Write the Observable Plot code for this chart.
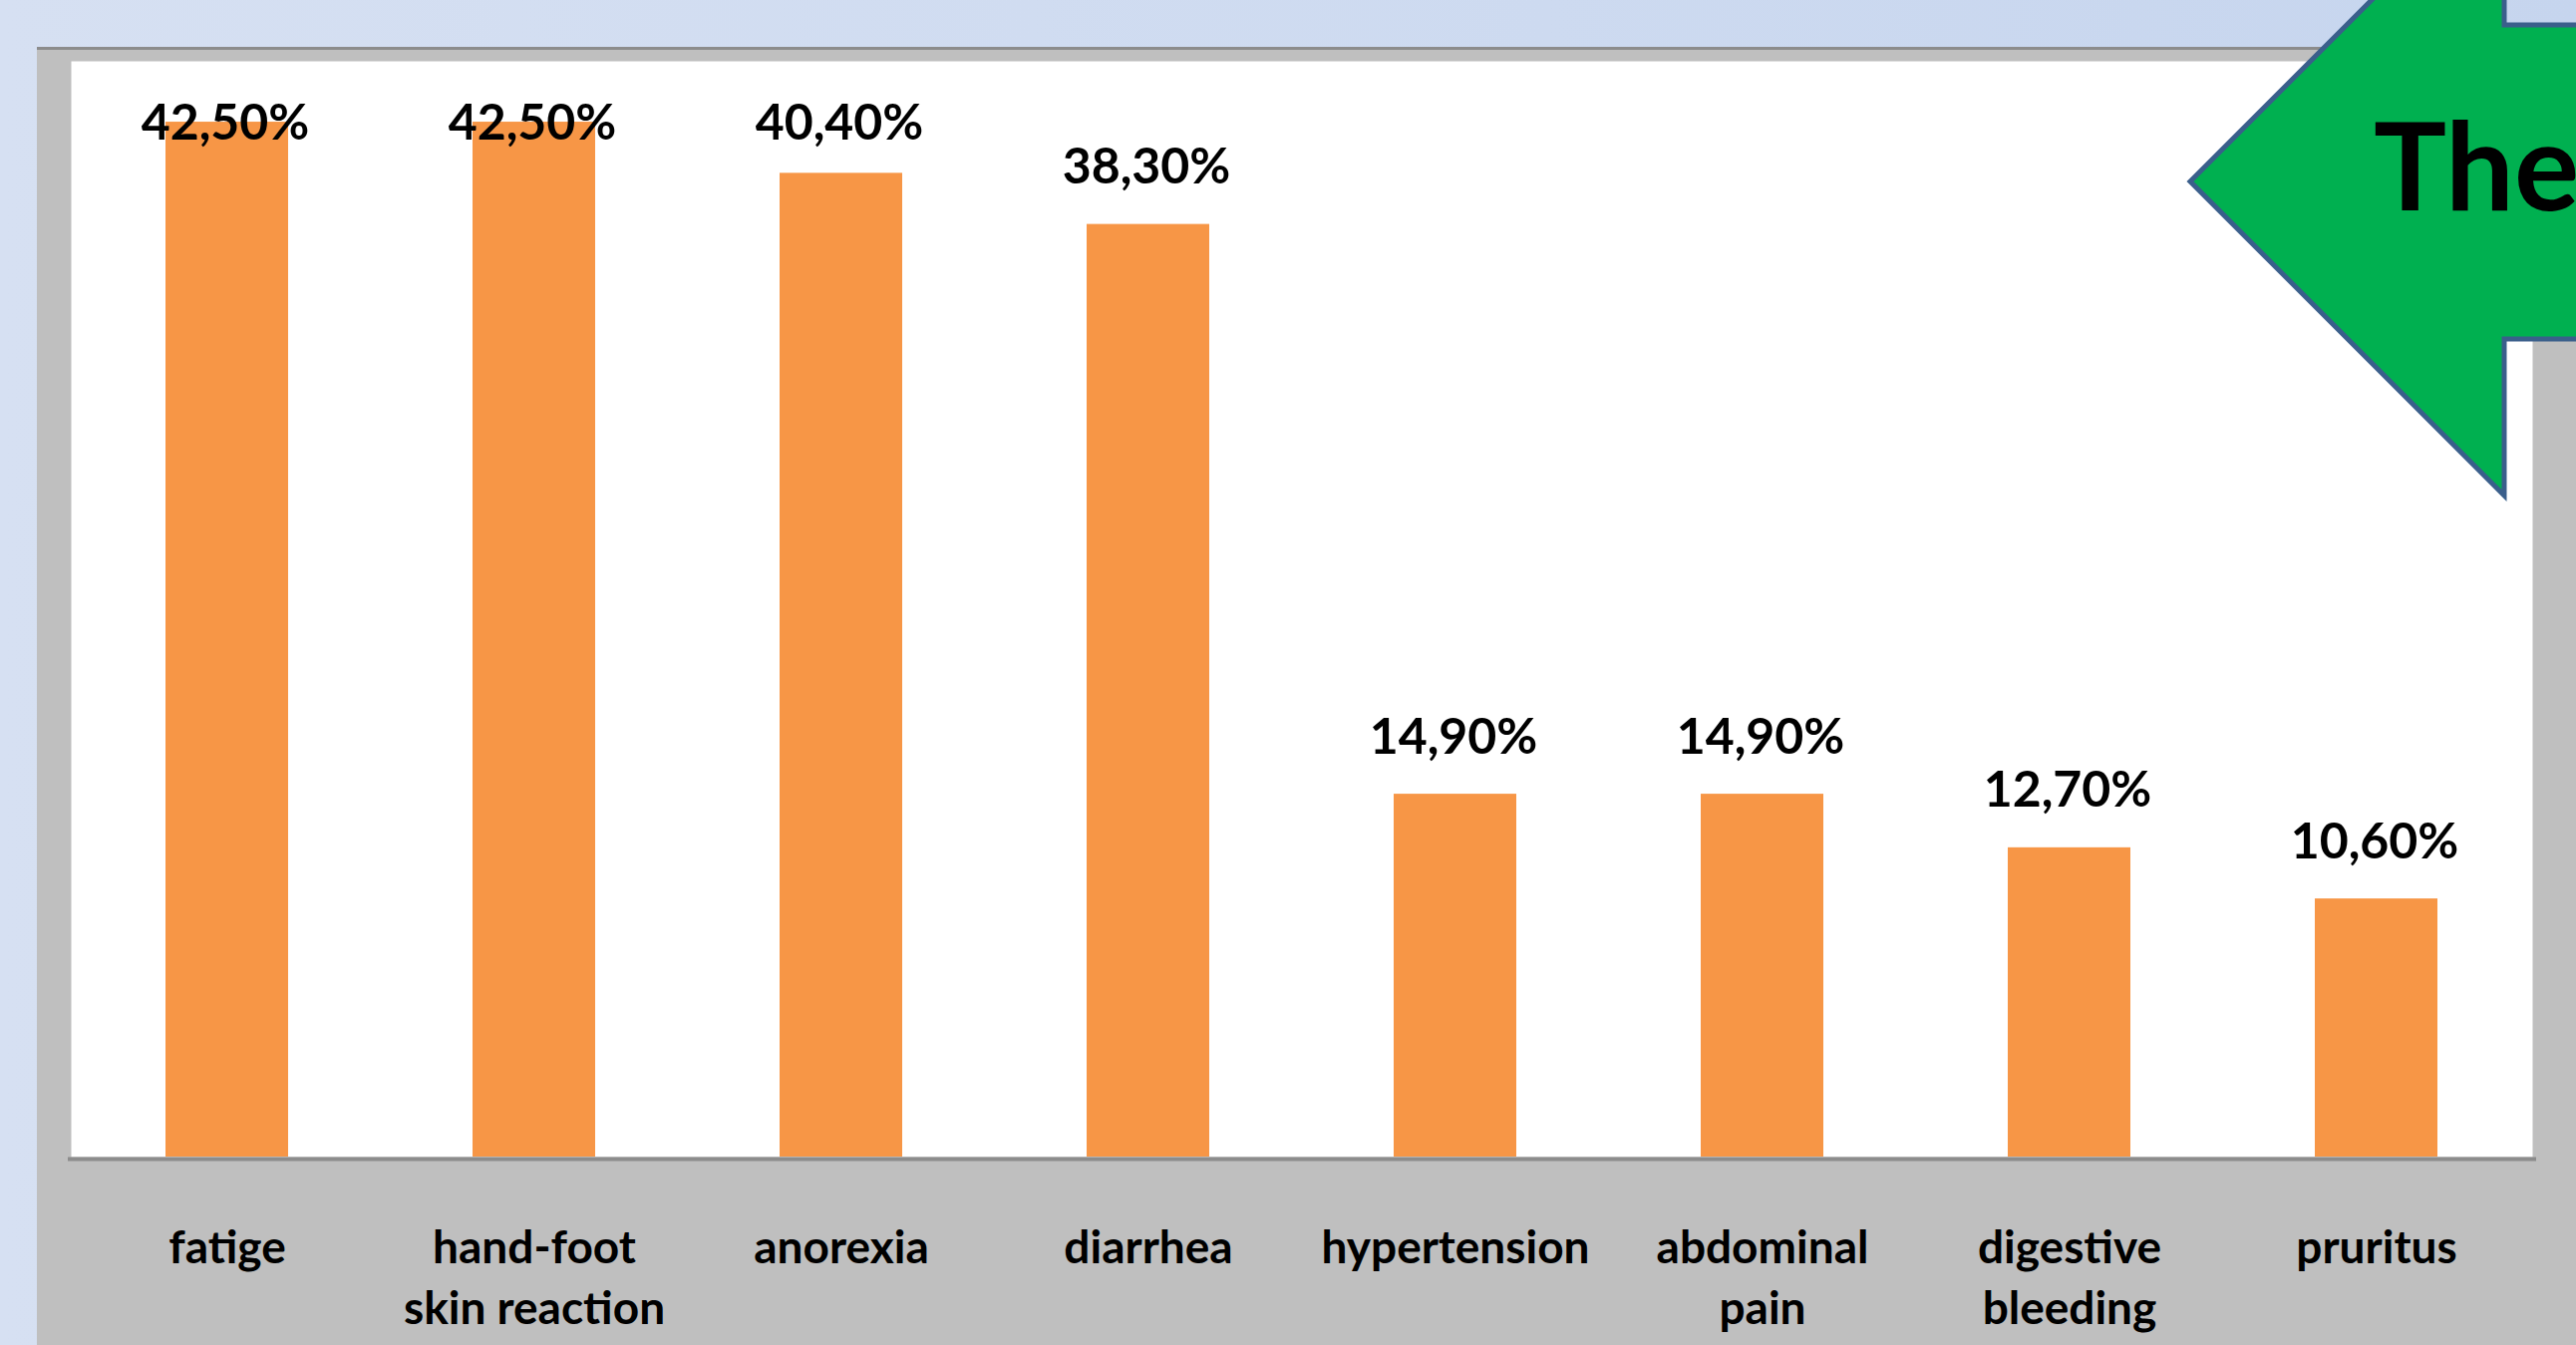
<!DOCTYPE html>
<html><head><meta charset="utf-8">
<script src="https://cdn.jsdelivr.net/npm/d3@7"></script>
<script src="https://cdn.jsdelivr.net/npm/@observablehq/plot@0.6"></script>
<style>
html,body{margin:0;padding:0;}
body{width:2584px;height:1349px;overflow:hidden;position:relative;background:linear-gradient(90deg,#D6E0F2 0%,#CDDAF0 60%,#C6D5EE 100%);font-family:Lato,sans-serif;}
#frame{position:absolute;left:37px;top:47px;right:0;bottom:0;background:#BFBFBF;border-top:3px solid #8C8C8C;}
#chart{position:absolute;left:0;top:0;}
#arrow{position:absolute;left:0;top:0;}
</style></head><body>
<div id="frame"></div>
<div id="chart"></div>
<svg id="arrow" width="2584" height="1349" xmlns="http://www.w3.org/2000/svg">
  <polygon points="2197,182 2512,-133 2512,25 2600,25 2600,340 2512,340 2512,497" fill="#00B050" stroke="#3A5F8B" stroke-width="5" stroke-linejoin="miter"/>
  <text x="2381" y="211" font-family="Lato, sans-serif" font-weight="700" font-size="122" fill="#000">The</text>
</svg>
<script>
const categories = ["fatige", "hand-foot skin reaction", "anorexia", "diarrhea", "hypertension", "abdominal pain", "digestive bleeding", "pruritus"];
const tickLabels = ["fatige", "hand-foot\nskin reaction", "anorexia", "diarrhea", "hypertension", "abdominal\npain", "digestive\nbleeding", "pruritus"];
const values = [42.5, 42.5, 40.4, 38.3, 14.9, 14.9, 12.7, 10.6];

const data = categories.map((c, i) => ({category: c, value: values[i]}));
const fmt = v => v.toFixed(2).replace(".", ",") + "%";
const labelCap = 40.1; // labels near the top are kept inside the plot area

const chart = Plot.plot({
  width: 2584, height: 1349,
  marginLeft: 71, marginRight: 44, marginTop: 61, marginBottom: 189,
  style: {background: "transparent", fontFamily: "Lato, sans-serif", fontWeight: 700, color: "#000", overflow: "visible"},
  x: {domain: categories, paddingInner: 0.6, paddingOuter: 0.3, label: null},
  y: {domain: [0, 45], axis: null},
  marks: [
    Plot.frame({fill: "white", stroke: "none"}),
    Plot.barY(data, {x: "category", y: "value", fill: "#F79646"}),
    Plot.ruleY([0], {stroke: "#8C8C8C", strokeWidth: 4, dy: 2, insetLeft: -3, insetRight: -4}),
    Plot.text(data, {x: "category", y: d => Math.min(d.value, labelCap), text: d => fmt(d.value), dx: -2, dy: -41, lineAnchor: "bottom", fontSize: 50, fontWeight: 700, fill: "#000"}),
    Plot.axisX({tickSize: 0, tickPadding: 63, fontSize: 46, lineHeight: 1.33, fontWeight: 700, fill: "#000", label: null, tickFormat: d => tickLabels[categories.indexOf(d)]})
  ]
});
document.getElementById("chart").appendChild(chart);
</script>
</body></html>
